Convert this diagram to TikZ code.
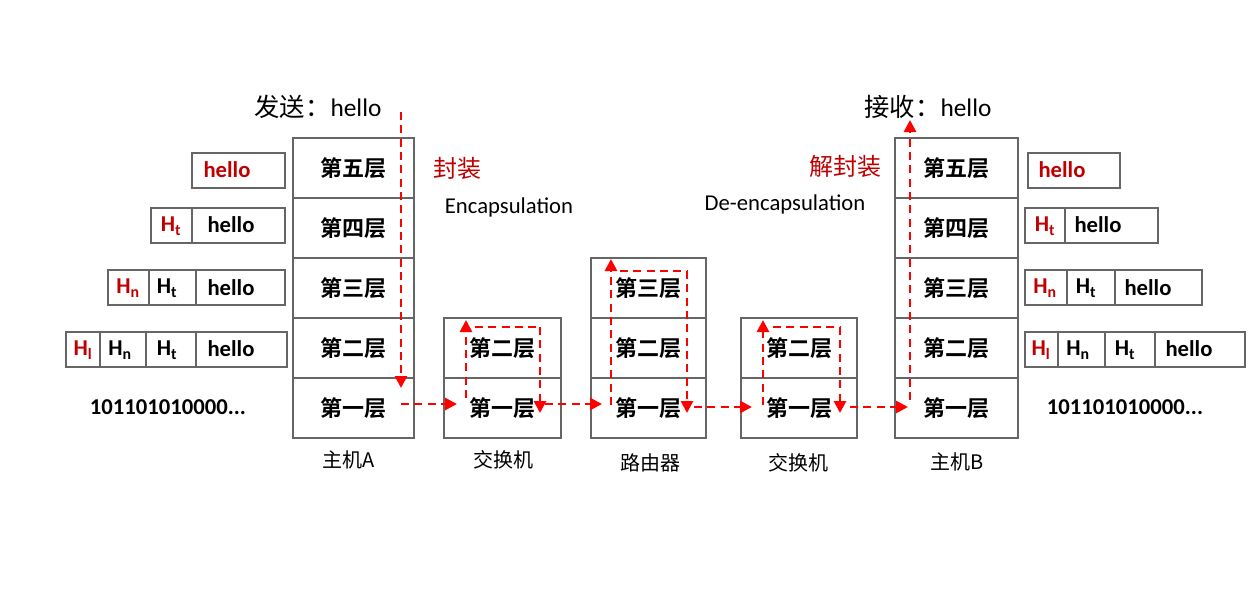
\documentclass[tikz,border=0pt]{standalone}
\usepackage{fontspec}
\setmainfont{Carlito}
\newfontfamily\cjk{Noto Sans CJK SC}
\newfontfamily\cjkb{Noto Sans CJK SC Bold}
\usetikzlibrary{arrows.meta}
\definecolor{hred}{RGB}{192,0,0}
\begin{document}
\begin{tikzpicture}[x=0.75pt,y=-0.75pt,
  cell/.style={draw=black!60,line width=0.8pt},
  lay/.style={font=\cjkb\fontsize{16.5}{18}\selectfont},
  pk/.style={font=\bfseries\fontsize{17}{19}\selectfont},
  lab/.style={font=\cjk\fontsize{15}{17}\selectfont},
  flow/.style={red,line width=2pt,dash pattern=on 6pt off 4pt,-{Triangle[length=9pt,width=9pt]}},
  flown/.style={red,line width=2pt,dash pattern=on 6pt off 4pt}]
\useasboundingbox (0,0) rectangle (1247,589);
% stacks
\foreach \xa/\xb/\top/\name in {293/414/138/A,444/561/318/S,591/706/258/R,741/857/318/T,895/1018/138/B}{
  \foreach \yy in {\top,198,258,318,378}{
    \pgfmathparse{\yy>=\top?1:0}
    \ifnum\pgfmathresult=1 \draw[cell] (\xa,\yy) rectangle (\xb,\yy+60);\fi
  }
}
% layer labels
\foreach \x/\n in {353.5/5,956.5/5}{}
\node[lay] (a5) at (353.5,168) {第五层};
\node[lay] (a4) at (353.5,228) {第四层};
\node[lay] (a3) at (353.5,288) {第三层};
\node[lay] (a2) at (353.5,348) {第二层};
\node[lay] (a1) at (353.5,408) {第一层};
\node[lay] (b5) at (956.5,168) {第五层};
\node[lay] (b4) at (956.5,228) {第四层};
\node[lay] (b3) at (956.5,288) {第三层};
\node[lay] (b2) at (956.5,348) {第二层};
\node[lay] (b1) at (956.5,408) {第一层};
\node[lay] (s2) at (502.5,348) {第二层};
\node[lay] (s1) at (502.5,408) {第一层};
\node[lay] (r3) at (648.5,288) {第三层};
\node[lay] (r2) at (648.5,348) {第二层};
\node[lay] (r1) at (648.5,408) {第一层};
\node[lay] (t2) at (799,348) {第二层};
\node[lay] (t1) at (799,408) {第一层};
% device labels
\node[lab] (la) at (349,460) {主机A};
\node[lab] (ls) at (503,460) {交换机};
\node[lab] (lr) at (650,463) {路由器};
\node[lab] (lt) at (798,463) {交换机};
\node[lab] (lb) at (957,462) {主机B};
% packet boxes left
\draw[cell] (192,153) rectangle (285,188);
\node[pk,text=hred] (p1) at (227,170) {hello};
\draw[cell] (151,208) rectangle (192,243) (192,208) rectangle (285,243);
\node[pk,text=hred] at (171,226) {H$_{\mathbf t}$};
\node[pk] at (231,225) {hello};
\draw[cell] (108,270) rectangle (149,305) (149,270) rectangle (196,305) (196,270) rectangle (285,305);
\node[pk,text=hred] at (128,288) {H\textsubscript{n}};
\node[pk] at (167,288) {H\textsubscript{t}};
\node[pk] at (231,288) {hello};
\draw[cell] (66,332) rectangle (100,367) (100,332) rectangle (146,367) (146,332) rectangle (196,367) (196,332) rectangle (287,367);
\node[pk,text=hred] at (83,350) {H\textsubscript{l}};
\node[pk] at (120,350) {H\textsubscript{n}};
\node[pk] at (167,350) {H\textsubscript{t}};
\node[pk] at (231,349) {hello};
\node[pk] (bitsA) at (168,407) {101101010000...};
% packet boxes right
\draw[cell] (1028,153) rectangle (1120,188);
\node[pk,text=hred] at (1062,170) {hello};
\draw[cell] (1025,208) rectangle (1065,243) (1065,208) rectangle (1158,243);
\node[pk,text=hred] at (1045,226) {H$_{\mathbf t}$};
\node[pk] at (1098,225) {hello};
\draw[cell] (1025,270) rectangle (1067,305) (1067,270) rectangle (1115,305) (1115,270) rectangle (1202,305);
\node[pk,text=hred] at (1045,288) {H\textsubscript{n}};
\node[pk] at (1086,288) {H\textsubscript{t}};
\node[pk] at (1148,288) {hello};
\draw[cell] (1025,332) rectangle (1058,367) (1058,332) rectangle (1105,367) (1105,332) rectangle (1155,367) (1155,332) rectangle (1245,367);
\node[pk,text=hred] at (1041,350) {H\textsubscript{l}};
\node[pk] at (1078,350) {H\textsubscript{n}};
\node[pk] at (1125,350) {H\textsubscript{t}};
\node[pk] at (1189,349) {hello};
\node[pk] (bitsB) at (1125,407) {101101010000...};
% titles
\node[font=\cjk\fontsize{19}{21}\selectfont] (send) at (318,107) {发送：\fontspec{Carlito}hello};
\node[font=\cjk\fontsize{19}{21}\selectfont] (recv) at (928,107) {接收：\fontspec{Carlito}hello};
\node[font=\cjk\fontsize{18}{20}\selectfont,text=hred] (enc) at (457,168) {封装};
\node[font=\fontsize{17}{19}\selectfont] (encE) at (509,207) {Encapsulation};
\node[font=\cjk\fontsize{18}{20}\selectfont,text=hred] (dec) at (845,166) {解封装};
\node[font=\fontsize{17}{19}\selectfont] (decE) at (785,204) {De-encapsulation};
% flows
\draw[flow] (401,112) -- (401,388);
\draw[flow] (401,404) -- (457,404);
\draw[flow] (466,398) -- (466,320);
\draw[flown] (475,327) -- (540,327);
\draw[flow] (540,327) -- (540,413);
\draw[flow] (545,404) -- (602,404);
\draw[flow] (611,405) -- (611,259);
\draw[flown] (620,271) -- (687,271);
\draw[flow] (687,271) -- (687,413);
\draw[flow] (694,407) -- (752,407);
\draw[flow] (763,405) -- (763,320);
\draw[flown] (773,327) -- (840,327);
\draw[flow] (840,327) -- (840,413);
\draw[flow] (850,407) -- (908,407);
\draw[flow] (910,400) -- (910,120);
\end{tikzpicture}
\end{document}
